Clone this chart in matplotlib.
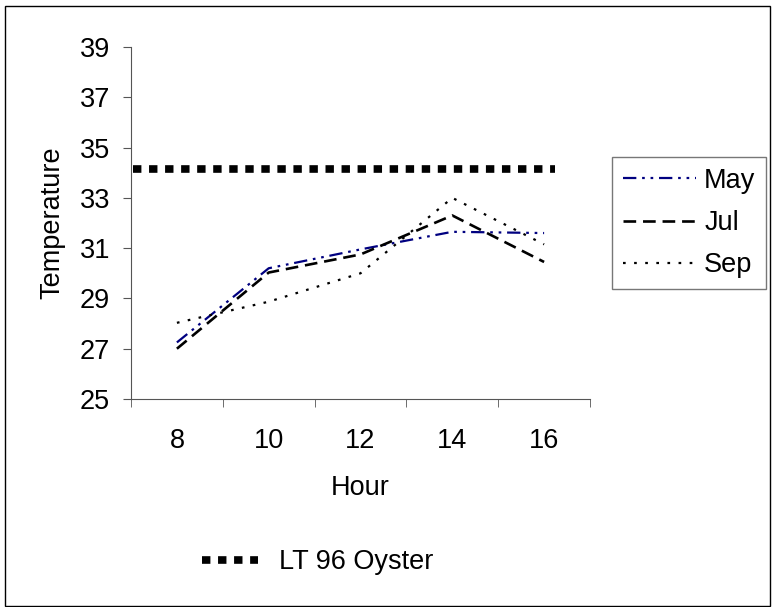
from matplotlib import pyplot as plt
from matplotlib.lines import Line2D
from matplotlib.patches import Rectangle
import numpy as np

plt.rcParams["font.family"] = ["Liberation Sans", "DejaVu Sans"]
plt.rcParams["font.size"] = 19.5

hours = ["8", "10", "12", "14", "16"]
may = [27.25, 30.2, 30.95, 31.65, 31.6]
jul = [27.0, 30.03, 30.75, 32.3, 30.45]
sep = [28.03, 28.87, 30.0, 33.0, 31.15]
lt96 = 34.15

W, H = 772, 607
fig = plt.figure(figsize=(W / 100, H / 100), dpi=100)
fig.patches.append(Rectangle((5 / W, 1 / H), 765 / W, 600 / H, transform=fig.transFigure,
                             fill=False, edgecolor="black", linewidth=1))
ax = fig.add_axes([131 / W, 1 - 399 / H, 459 / W, 352 / H])

x = np.arange(len(hours))
may_style = (0, (6, 2.6, 1.2, 2.6, 1.2, 2.6))
jul_style = (0, (4.8, 2.6))
sep_style = (0, (1.2, 3.8))
lt_style = (0, (1.1, 1.0))

ax.plot(x, may, color="#000080", linestyle=may_style, linewidth=1.6, label="May")
ax.plot(x, jul, color="black", linestyle=jul_style, linewidth=1.9, label="Jul")
ax.plot(x, sep, color="black", linestyle=sep_style, linewidth=1.6, label="Sep")
ax.hlines(lt96, -0.48, 4.12, color="black", linestyles=lt_style, linewidth=5.5)

ax.set_xlim(-0.5, 4.5)
ax.set_ylim(25, 39)
ax.set_yticks(np.arange(25, 40, 2))
ax.set_xticks(x)
ax.set_xticklabels(hours)
ax.set_xticks(np.arange(-0.5, 5, 1), minor=True)
ax.tick_params(axis="x", which="major", length=0, pad=21)
ax.tick_params(axis="x", which="minor", length=6, direction="out", color="#555555")
ax.tick_params(axis="y", length=6, direction="out", pad=9, color="#555555")
ax.spines["top"].set_visible(False)
ax.spines["right"].set_visible(False)
ax.spines["left"].set_color("#555555")
ax.spines["bottom"].set_color("#555555")

ax.set_xlabel("Hour", labelpad=15)
ax.set_ylabel("Temperature", labelpad=10)

leg = fig.legend(loc="upper left", bbox_to_anchor=(612 / W, 1 - 157 / H), borderaxespad=0,
                 handlelength=2.7, frameon=True, fancybox=False, edgecolor="#555555",
                 borderpad=0.4, labelspacing=0.6, handletextpad=0.3)
leg.get_frame().set_linewidth(1)

lt_handle = Line2D([], [], color="black", linestyle=lt_style, linewidth=5.5)
fig.legend([lt_handle], ["LT 96 Oyster"], loc="center left",
           bbox_to_anchor=(202 / W, 1 - 562 / H), borderaxespad=0, borderpad=0,
           frameon=False, handlelength=2.07, handletextpad=0.78)

fig.savefig("out.png", dpi=100)
